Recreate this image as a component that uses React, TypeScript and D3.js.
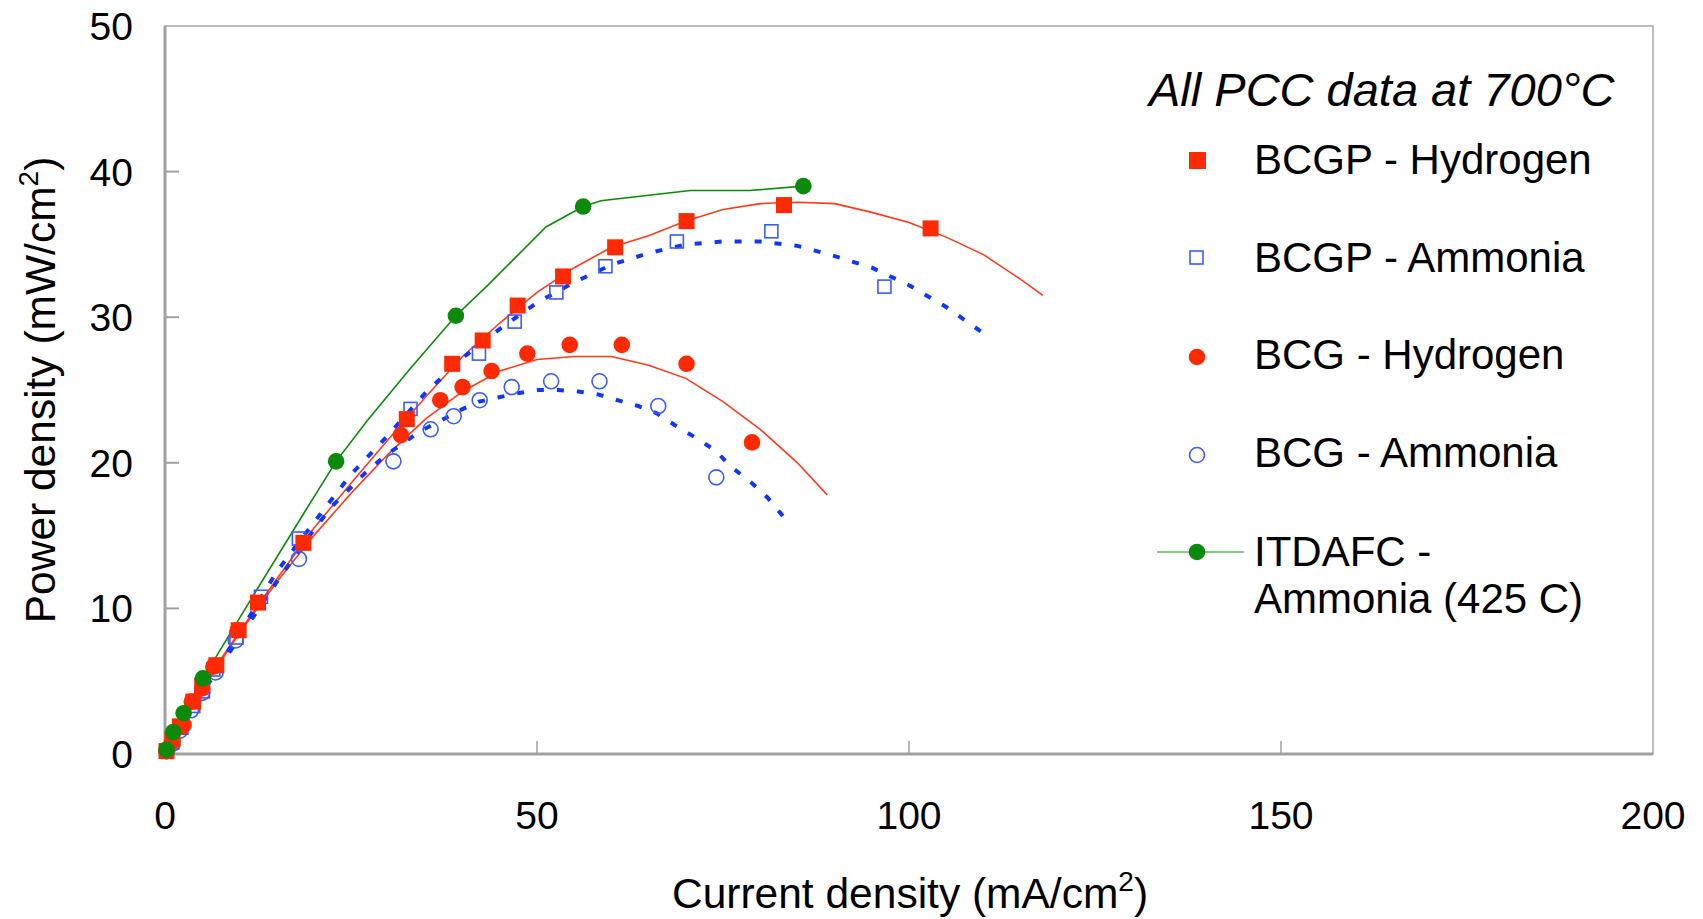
import React from "react";
import * as d3 from "d3";

// measured markers, [current density mA/cm2, power density mW/cm2]
const bcgpHydrogen: [number, number][] = [
  [0.2, 0.2], [1, 1], [2, 1.9], [3.8, 3.6], [5, 4.7], [6.9, 6.1], [9.9, 8.5],
  [12.5, 10.4], [18.6, 14.5], [32.5, 23.0], [38.6, 26.8], [42.7, 28.4],
  [47.4, 30.8], [53.5, 32.8], [60.5, 34.8], [70.1, 36.6], [83.2, 37.7], [102.9, 36.1]
];
const bcgpAmmonia: [number, number][] = [
  [0.2, 0.2], [1, 0.8], [2.2, 1.8], [3.8, 3.3], [5.1, 4.3], [6.5, 5.8], [9.6, 8.0],
  [12.9, 10.8], [18.0, 14.8], [33.0, 23.7], [38.7, 26.8], [42.2, 27.5],
  [47.0, 29.7], [52.6, 31.7], [59.2, 33.5], [68.8, 35.2], [81.5, 35.9], [96.7, 32.1]
];
const bcgHydrogen: [number, number][] = [
  [0.2, 0.2], [1, 0.9], [2.5, 2.0], [3.6, 3.6], [5, 4.5], [6.5, 6.0], [9.8, 8.5],
  [31.7, 21.9], [37.0, 24.3], [40.0, 25.2], [43.9, 26.3], [48.7, 27.5],
  [54.4, 28.1], [61.4, 28.1], [70.1, 26.8], [78.9, 21.4]
];
const bcgAmmonia: [number, number][] = [
  [0.2, 0.2], [1, 0.7], [2, 1.6], [3.5, 3.0], [5, 4.2], [6.8, 5.6], [9.5, 7.8],
  [18.0, 13.4], [30.7, 20.1], [35.7, 22.3], [38.8, 23.2], [42.3, 24.3],
  [46.6, 25.2], [51.9, 25.6], [58.4, 25.6], [66.3, 23.9], [74.1, 19.0]
];
const itdafcMarkers: [number, number][] = [
  [0.2, 0.3], [1.1, 1.5], [2.5, 2.8], [5.1, 5.2], [23.0, 20.1], [39.1, 30.1],
  [56.2, 37.6], [85.8, 39.0]
];
const itdafcLine: [number, number][] = [
  [0.2, 0.3], [1.1, 1.5], [2.5, 2.8], [5.1, 5.2], [12, 11], [18.5, 16.4], [23.0, 20.1],
  [27.2, 22.9], [33, 26.5], [39.1, 30.1], [43.4, 32.2], [51.2, 36.2], [56.2, 37.6],
  [58.6, 38.0], [70.6, 38.7], [78.6, 38.7], [85.8, 39.0]
];

// fitted curves
const bcgpHydrogenFit: [number, number][] = [
  [0, 0], [2, 1.9], [5, 4.6], [10, 8.4], [15, 12.0], [20, 15.5], [25, 18.6], [30, 21.6],
  [35, 24.5], [40, 27.3], [45, 29.6], [50, 31.7], [55, 33.4], [60, 34.8], [65, 35.6],
  [70, 36.6], [75, 37.4], [80, 37.8], [85, 37.9], [90, 37.8], [95, 37.2], [100, 36.5],
  [105, 35.5], [110, 34.3], [115, 32.6], [118, 31.5]
];
const bcgHydrogenFit: [number, number][] = [
  [0, 0], [5, 4.4], [10, 8.3], [15, 11.8], [20, 15.0], [25, 17.9], [30, 20.6], [35, 23.0],
  [40, 24.9], [45, 26.3], [50, 27.1], [55, 27.3], [60, 27.3], [65, 26.7], [70, 25.8],
  [75, 24.2], [80, 22.3], [85, 20.0], [89, 17.8]
];
const bcgpAmmoniaFit: [number, number][] = [
  [0, 0], [5, 4.3], [10, 8.3], [15, 12.5], [20, 15.9], [25, 19.2], [30, 21.9], [35, 24.8],
  [40, 27.2], [45, 29.2], [50, 31.0], [55, 32.4], [60, 33.6], [65, 34.4], [70, 35.0],
  [75, 35.2], [80, 35.2], [85, 34.9], [90, 34.2], [95, 33.4], [100, 32.2], [105, 30.7],
  [110, 28.9]
];
const bcgAmmoniaFit: [number, number][] = [
  [0, 0], [5, 4.2], [10, 8.0], [15, 11.8], [20, 15.4], [22.4, 17.0], [24.4, 18.0],
  [26.9, 19.3], [29.6, 20.5], [31.6, 21.2], [34.4, 22.2], [37.1, 22.9], [39.6, 23.6],
  [42.2, 24.2], [44.9, 24.5], [47.6, 24.8], [50.2, 25.0], [52.8, 25.0], [55.5, 24.9],
  [58.2, 24.7], [60.8, 24.3], [63.6, 23.9], [66.1, 23.4], [68.5, 22.6], [71.4, 21.7],
  [74.1, 20.8], [75.9, 19.8], [78.9, 18.6], [81, 17.6], [84.1, 15.7]
];

const xTicks = [0, 50, 100, 150, 200];
const yTicks = [0, 10, 20, 30, 40, 50];
const legendLabels = ["BCGP - Hydrogen", "BCGP - Ammonia", "BCG - Hydrogen", "BCG - Ammonia"];

const RED = "#ff2a00";
const BLUE = "#1036ff";
const OPEN_BLUE = "#3a5cff";
const GREEN = "#0b8a0b";
const FONT = "'Liberation Sans', Arial, sans-serif";

export default function App() {
  const x = d3.scaleLinear().domain([0, 200]).range([165, 1653]);
  const y = d3.scaleLinear().domain([0, 50]).range([754, 26]);
  const line = d3.line<[number, number]>().x(d => x(d[0])).y(d => y(d[1]));

  const square = (d: [number, number], i: number, s: number, fill: string, stroke: string) => (
    <rect key={i} x={x(d[0]) - s / 2} y={y(d[1]) - s / 2} width={s} height={s}
      fill={fill} stroke={stroke} strokeWidth={fill === "none" ? 1.6 : 0} />
  );

  return (
    <svg width={1703} height={919} style={{ position: "absolute", left: 0, top: 0, background: "#fff" }}>
      {/* plot frame */}
      <rect x={165} y={26} width={1488} height={728} fill="none" stroke="#a6a6a6" strokeWidth={1.5} />
      <line x1={165} x2={165} y1={26} y2={755} stroke="#a0a0a0" strokeWidth={3} />
      <line x1={164} x2={1653} y1={754} y2={754} stroke="#a0a0a0" strokeWidth={3} />
      {yTicks.slice(1, -1).map(t => (
        <line key={t} x1={165} x2={179} y1={y(t)} y2={y(t)} stroke="#a0a0a0" strokeWidth={2} />
      ))}
      {xTicks.slice(1, -1).map(t => (
        <line key={t} x1={x(t)} x2={x(t)} y1={754} y2={741} stroke="#a0a0a0" strokeWidth={1.5} />
      ))}

      {/* tick labels */}
      {yTicks.map(t => (
        <text key={t} x={133} y={y(t)} dy="0.36em" textAnchor="end" fontFamily={FONT} fontSize={39}>{t}</text>
      ))}
      {xTicks.map(t => (
        <text key={t} x={x(t)} y={829} textAnchor="middle" fontFamily={FONT} fontSize={39}>{t}</text>
      ))}

      {/* axis titles */}
      <text x={910} y={908} textAnchor="middle" fontFamily={FONT} fontSize={42.5}>
        Current density (mA/cm<tspan dy={-17} fontSize={28}>2</tspan><tspan dy={17}>)</tspan>
      </text>
      <text transform="translate(55,390) rotate(-90)" textAnchor="middle" fontFamily={FONT} fontSize={42.5}>
        Power density (mW/cm<tspan dy={-17} fontSize={28}>2</tspan><tspan dy={17}>)</tspan>
      </text>

      {/* fitted curves */}
      <path d={line(bcgpHydrogenFit) ?? ""} fill="none" stroke="#ff3b1f" strokeWidth={1.6} />
      <path d={line(bcgHydrogenFit) ?? ""} fill="none" stroke="#ff3b1f" strokeWidth={1.6} />
      <path d={line(bcgpAmmoniaFit) ?? ""} fill="none" stroke={BLUE} strokeWidth={4} strokeDasharray="7 13" />
      <path d={line(bcgAmmoniaFit) ?? ""} fill="none" stroke={BLUE} strokeWidth={4} strokeDasharray="7 13" />
      <path d={line(itdafcLine) ?? ""} fill="none" stroke={GREEN} strokeWidth={1.6} />

      {/* markers */}
      {bcgAmmonia.map((d, i) => (
        <circle key={i} cx={x(d[0])} cy={y(d[1])} r={7.5} fill="none" stroke={OPEN_BLUE} strokeWidth={1.6} />
      ))}
      {bcgpAmmonia.map((d, i) => square(d, i, 13, "none", OPEN_BLUE))}
      {bcgHydrogen.map((d, i) => (
        <circle key={i} cx={x(d[0])} cy={y(d[1])} r={8.3} fill={RED} />
      ))}
      {bcgpHydrogen.map((d, i) => square(d, i, 16, RED, RED))}
      {itdafcMarkers.map((d, i) => (
        <circle key={i} cx={x(d[0])} cy={y(d[1])} r={8.3} fill={GREEN} />
      ))}

      {/* legend */}
      <text x={1149} y={106} fontFamily={FONT} fontStyle="italic" fontSize={47}>All PCC data at 700°C</text>
      {legendLabels.map((l, i) => (
        <text key={l} x={1254} y={159 + i * 97.5} dy="0.36em" fontFamily={FONT} fontSize={42}>{l}</text>
      ))}
      <rect x={1189} y={152} width={17} height={17} fill={RED} />
      <rect x={1190} y={251} width={13} height={13} fill="none" stroke={OPEN_BLUE} strokeWidth={1.6} />
      <circle cx={1197} cy={357} r={8.3} fill={RED} />
      <circle cx={1197} cy={455} r={7.5} fill="none" stroke={OPEN_BLUE} strokeWidth={1.6} />
      <line x1={1157} x2={1244} y1={552} y2={552} stroke="#5cb85c" strokeWidth={1.6} />
      <circle cx={1197} cy={552} r={8.3} fill={GREEN} />
      <text x={1254} y={551} dy="0.36em" fontFamily={FONT} fontSize={42}>ITDAFC -</text>
      <text x={1254} y={598} dy="0.36em" fontFamily={FONT} fontSize={42}>Ammonia (425 C)</text>
    </svg>
  );
}
